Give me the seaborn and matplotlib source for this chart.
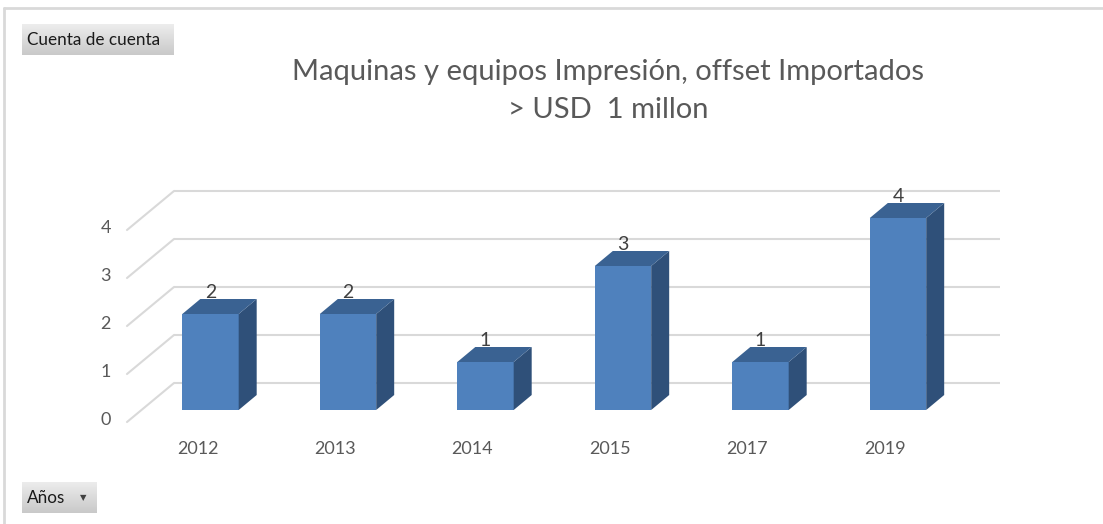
import numpy as np
import matplotlib
matplotlib.use("Agg")
import matplotlib.pyplot as plt
from matplotlib.patches import Polygon, Rectangle
import seaborn as sns

# ---- data ----
years = ["2012", "2013", "2014", "2015", "2017", "2019"]
counts = [2, 2, 1, 3, 1, 4]
yticks = [0, 1, 2, 3, 4]
title_lines = ["Maquinas y equipos Impresión, offset Importados", "> USD  1 millon"]

# ---- style ----
sns.set_theme(style="white")
plt.rcParams["font.family"] = ["Lato", "DejaVu Sans"]

W, H = 1103, 524
fig = plt.figure(figsize=(W / 100, H / 100), dpi=100)
fig.patch.set_facecolor("white")
ax = fig.add_axes([0, 0, 1, 1])

FRONT = "#4F81BD"
SIDE = "#2F5079"
TOP = "#3A6292"
GRID = "#D9D9D9"
TXT = "#595959"

# pixel geometry
sx, sy = 137.5, 48.0          # px per category / per unit
x0_px, base_px = 210.5, 410.0  # center of first category, baseline row

sns.barplot(x=years, y=counts, color=FRONT, saturation=1, width=0.41,
            linewidth=0, ax=ax, zorder=3)
ax.set_xlim(-x0_px / sx, (W - x0_px) / sx)
ax.set_ylim(-(H - base_px) / sy, base_px / sy)
ax.axis("off")

def px_x(p):
    return (p - x0_px) / sx

back_dy = 27 / sy
front_dy = -12 / sy
# gridlines: back wall + side wall
for v in yticks:
    ax.plot([px_x(174), px_x(1000)], [v + back_dy, v + back_dy],
            color=GRID, lw=1.5, zorder=1, solid_capstyle="butt")
    ax.plot([px_x(127), px_x(174)], [v + front_dy, v + back_dy],
            color=GRID, lw=1.5, zorder=1)
    ax.text(px_x(111), v + front_dy + 2 / sy, str(v), ha="right", va="center",
            fontsize=13, color=TXT)

# 3D faces of bars
ddx, ddy = 18 / sx, 15 / sy
for p, c in zip(ax.patches, counts):
    x0 = p.get_x()
    x1 = x0 + p.get_width()
    h = p.get_height()
    side = Polygon([(x1, 0), (x1, h), (x1 + ddx, h + ddy), (x1 + ddx, ddy)],
                   closed=True, facecolor=SIDE, edgecolor="none", zorder=3)
    top = Polygon([(x0, h), (x1, h), (x1 + ddx, h + ddy), (x0 + ddx, h + ddy)],
                  closed=True, facecolor=TOP, edgecolor="none", zorder=3)
    ax.add_patch(side)
    ax.add_patch(top)
    cx = x0 + p.get_width() / 2
    ax.text(cx, h + 22 / sy, str(c), ha="center", va="center",
            fontsize=14, color="#404040", zorder=5)

# category labels
for i, y in enumerate(years):
    ax.text(i - 13 / sx, -(449 - base_px) / sy, y, ha="center", va="center",
            fontsize=13, color=TXT)

# title
fig.text(608 / W, 1 - 72 / H, title_lines[0], ha="center", va="center",
         fontsize=21, color=TXT)
fig.text(608 / W, 1 - 110 / H, title_lines[1], ha="center", va="center",
         fontsize=21, color=TXT)

# chart border
fig.add_artist(plt.Line2D([4 / W, 1], [1 - 8 / H, 1 - 8 / H],
                          transform=fig.transFigure, color="#D9D9D9", lw=2))
fig.add_artist(plt.Line2D([4 / W, 4 / W], [0, 1 - 8 / H],
                          transform=fig.transFigure, color="#D9D9D9", lw=2))

# pivot field buttons
grad = np.linspace(0, 1, 64).reshape(-1, 1)
def button(x, y, w, h, label, arrow=False):
    bax = fig.add_axes([x / W, 1 - (y + h) / H, w / W, h / H])
    bax.imshow(grad, aspect="auto", cmap=matplotlib.colors.LinearSegmentedColormap.from_list(
        "g", ["#EDEDED", "#C9C9C9"]), extent=[0, 1, 0, 1], origin="upper")
    bax.set_xlim(0, 1)
    bax.set_ylim(0, 1)
    bax.axis("off")
    bax.text(5 / w, 0.48, label, ha="left", va="center", fontsize=12.3,
             color="#1A1A1A", transform=bax.transAxes)
    if arrow:
        bax.text(1 - 14 / w, 0.5, "▼", ha="center", va="center", fontsize=6,
                 color="#404040", family="DejaVu Sans", transform=bax.transAxes)

button(22, 24, 152, 31, "Cuenta de cuenta")
button(22, 482, 75, 31, "Años", arrow=True)

fig.savefig("out.png", dpi=100, facecolor="white")
